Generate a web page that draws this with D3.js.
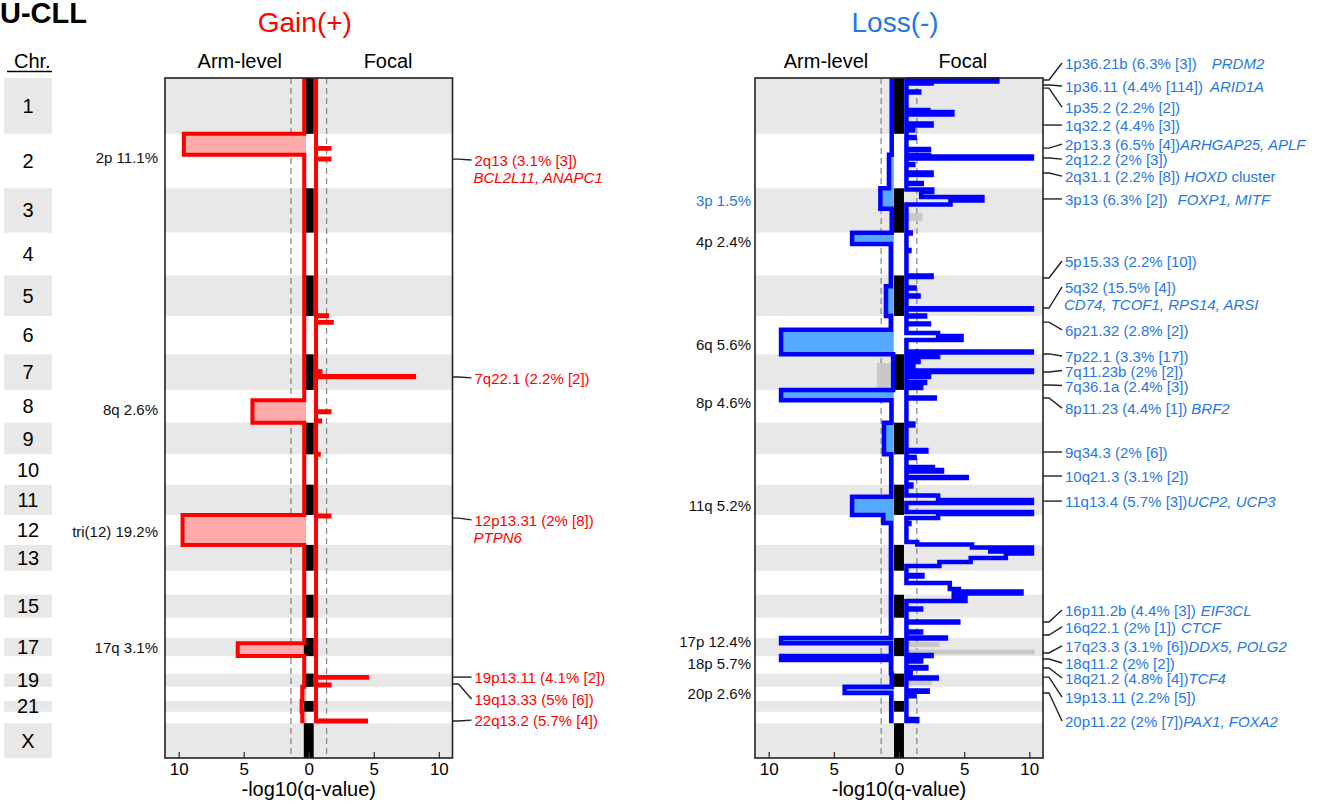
<!DOCTYPE html>
<html><head><meta charset="utf-8">
<script src="https://cdn.jsdelivr.net/npm/d3@7"></script>
<style>body{margin:0;background:#fff;} svg{display:block;font-family:"Liberation Sans",Arial,sans-serif;}</style>
</head><body>
<svg id="chart" width="1325" height="804"></svg>
<script>
// ---------------- data ----------------
const chromosomes = ["1","2","3","4","5","6","7","8","9","10","11","12","13","14","15","16","17","18","19","20","21","22","X"];
const chromLengths = [249.25,243.2,198.0,191.15,180.9,171.1,159.1,146.4,141.2,135.5,135.0,133.85,115.2,107.35,102.5,90.35,81.2,78.1,59.1,63.0,48.1,51.3,155.3];
const centromeres = [125.0,93.3,91.0,50.4,48.4,61.0,59.9,45.6,49.0,40.2,53.7,35.8,17.9,17.6,19.0,36.6,24.0,17.2,26.5,27.5,13.2,14.7,60.6];
const chromLabels = ["1","2","3","4","5","6","7","8","9","10","11","12","13","","15","","17","","19","","21","","X"];
const xTicks = [-10,-5,0,5,10];
const threshold = 1.37;

// arm-level -log10(q) per arm (chr1..22)
const gainArmP = [0.35,9.6,0.35,0.35,0.35,0.35,0.35,0.35,0.35,0.35,0.35,9.7,0.35,0.35,0.35,0.35,0.35,0.35,0.35,0.5,0.55,0.5];
const gainArmQ = [0.35,0.35,0.35,0.35,0.35,0.35,0.35,4.33,0.35,0.35,0.35,9.7,0.35,0.35,0.35,0.35,5.46,0.35,0.35,0.5,0.55,0.5];
const lossArmP = [0.56,0.56,1.43,3.6,0.63,0.63,0.45,9.05,1.15,0.6,0.6,1.2,0.62,0.62,0.62,0.62,9.05,9.05,0.56,4.17,0.6,0.6];
const lossArmQ = [0.56,0.77,0.56,0.63,1.0,9.05,0.45,0.58,1.15,0.6,3.6,0.62,0.62,0.62,0.62,0.62,0.62,0.62,0.56,0.6,0.6,0.6];
const lossArmGrey = [[1273,1389,1.7]];

// focal segments: [genome start Mb, genome end Mb, -log10(q)]
const gainFocalBase = 0.56;
const gainFocal = [[312,316,1.6],[359,364,1.6],[1059,1064,1.4],[1089,1093,1.77],[1309,1313,0.9],[1331,1336,8.1],[1488,1492,1.6],[1529,1534,0.87],[1678,1682,0.77],[1953,1958,1.6],[2674,2678,4.5],[2708,2712,1.6],[2869,2873,4.4]];
const lossFocalBase = 0.57;
const lossFocal = [[7,15.6,7.55],[15.6,24.6,2.5],[60,65,1.55],[143,152,2.25],[152,163,4.1],[203,212,2.5],[230,234,1.1],[263,268,1.2],[317,321,2.3],[344,350.5,2.3],[350.5,359,10.2],[384,388,1.1],[422,433,2.5],[469,473,1.75],[498,509,2.55],[509,531,1.7],[531,547,6.4],[547,565,3.95],[690,694,0.9],[768,772,0.8],[882,888,2.5],[935,940,1.2],[971,976,1.5],[1028,1034,10.2],[1060,1065,2.0],[1096,1100,2.3],[1139,1152,3.0],[1152,1170,4.8],[1221,1226,10.2],[1237,1246,3.0],[1264,1268,1.5],[1286,1290,1.1],[1306,1313,10.2],[1331,1335,2.3],[1357,1362,2.0],[1380,1384,1.7],[1427,1431,2.75],[1543,1552,1.1],[1661,1668,2.1],[1692,1697,1.2],[1737,1744,2.6],[1750,1757,3.3],[1781,1786,5.2],[1815,1824,0.95],[1864,1884,3.0],[1884,1898,10.2],[1938,1947,10.2],[1947,1965,3.0],[1987,1991,0.8],[2072,2083,1.4],[2083,2096,5.6],[2096,2108,10.2],[2108,2114,7.0],[2114,2123,10.2],[2123,2143,8.2],[2143,2161,5.5],[2161,2179,3.1],[2219,2226,1.8],[2255,2282,3.9],[2282,2293,4.6],[2293,2302,9.4],[2302,2317,4.2],[2317,2335,5.1],[2369,2373,1.7],[2427,2431,4.55],[2471,2476,1.7],[2498,2503,3.6],[2576,2581,2.5],[2601,2605,1.7],[2630,2637,2.1],[2657,2661,0.9],[2677,2681,2.9],[2735,2740,2.2],[2755,2760,1.2],[2862,2871,1.4]];
const lossFocalGrey = [[603,638,1.8],[2518,2541,3.1],[2552,2574,10.4],[2691,2711,2.5]];

// arm labels: [genome position, text]
const gainArmLabels = [[357,"2p 11.1%"],[1482,"8q 2.6%"],[2023,"tri(12) 19.2%"],[2545,"17q 3.1%"]];
const lossArmLabels = [[549,"3p 1.5%",true],[732,"4p 2.4%"],[1188,"6q 5.6%"],[1447,"8p 4.6%"],[1907,"11q 5.2%"],[2514,"17p 12.4%"],[2616,"18p 5.7%"],[2746,"20p 2.6%"]];

// peak labels
const gainPeakLabels = [
 {peak:362, at:366, name:"2q13 (3.1% [3])", genes:"BCL2L11, ANAPC1", below:true},
 {peak:1335, at:1339, name:"7q22.1 (2.2% [2])"},
 {peak:1965, at:1973, name:"12p13.31 (2% [8])", genes:"PTPN6", below:true},
 {peak:2675, at:2675, name:"19p13.11 (4.1% [2])"},
 {peak:2706, at:2773, name:"19q13.33 (5% [6])"},
 {peak:2871, at:2867, name:"22q13.2 (5.7% [4])"}
];
const lossPeakLabels = [
 {peak:9, at:-67, name:"1p36.21b (6.3% [3])", genes:"PRDM2", gap:15},
 {peak:31, at:36, name:"1p36.11 (4.4% [114])", genes:"ARID1A", gap:7},
 {peak:45, at:130, name:"1p35.2 (2.2% [2])"},
 {peak:210, at:210, name:"1q32.2 (4.4% [3])"},
 {peak:313, at:295, name:"2p13.3 (6.5% [4])", genes:"ARHGAP25, APLF", gap:0},
 {peak:357, at:362, name:"2q12.2 (2% [3])"},
 {peak:424, at:438, name:"2q31.1 (2.2% [8])", genes:"HOXD", gap:4, after:"cluster"},
 {peak:540, at:540, name:"3p13 (6.3% [2])", genes:"FOXP1, MITF", gap:10},
 {peak:893, at:817, name:"5p15.33 (2.2% [10])"},
 {peak:1027, at:933, name:"5q32 (15.5% [4])", genes:"CD74, TCOF1, RPS14, ARSI", below:true},
 {peak:1090, at:1125, name:"6p21.32 (2.8% [2])"},
 {peak:1232, at:1241, name:"7p22.1 (3.3% [17])"},
 {peak:1313, at:1306, name:"7q11.23b (2% [2])"},
 {peak:1371, at:1373, name:"7q36.1a (2.4% [3])"},
 {peak:1429, at:1474, name:"8p11.23 (4.4% [1])", genes:"BRF2", gap:4},
 {peak:1670, at:1670, name:"9q34.3 (2% [6])"},
 {peak:1777, at:1777, name:"10q21.3 (3.1% [2])"},
 {peak:1889, at:1889, name:"11q13.4 (5.7% [3])", genes:"UCP2, UCP3", gap:0},
 {peak:2429, at:2375, name:"16p11.2b (4.4% [3])", genes:"EIF3CL", gap:5},
 {peak:2487, at:2451, name:"16q22.1 (2% [1])", genes:"CTCF", gap:5},
 {peak:2567, at:2536, name:"17q23.3 (3.1% [6])", genes:"DDX5, POLG2", gap:0},
 {peak:2594, at:2612, name:"18q11.2 (2% [2])"},
 {peak:2634, at:2679, name:"18q21.2 (4.8% [4])", genes:"TCF4", gap:0},
 {peak:2675, at:2764, name:"19p13.11 (2.2% [5])"},
 {peak:2746, at:2871, name:"20p11.22 (2% [7])", genes:"PAX1, FOXA2", gap:0}
];

// ---------------- drawing ----------------
const svg = d3.select("#chart");
const FONT = '"Liberation Sans",Arial,sans-serif';
const total = d3.sum(chromLengths);
const starts = chromLengths.map((d,i)=>d3.sum(chromLengths.slice(0,i)));
const autoEnd = starts[21] + chromLengths[21];
const y = d3.scaleLinear().domain([0,total]).range([78,758]);
const RED = "#ff0000", BLUE = "#0000ff", LBLUE = "#1f78e6";

svg.append("text").attr("x",0).attr("y",23).attr("font-size",29).attr("font-weight","bold").text("U-CLL");

// chromosome column
svg.append("text").attr("x",14).attr("y",68).attr("font-size",20).text("Chr.");
svg.append("line").attr("x1",7).attr("x2",52).attr("y1",71.5).attr("y2",71.5).attr("stroke","#000").attr("stroke-width",1.5);
chromosomes.forEach((c,i)=>{
  if(i%2===0) svg.append("rect").attr("x",4).attr("width",48).attr("y",y(starts[i])).attr("height",y(starts[i]+chromLengths[i])-y(starts[i])).attr("fill","#e8e8e8");
  if(chromLabels[i]) svg.append("text").attr("x",28).attr("y",(y(starts[i])+y(starts[i]+chromLengths[i]))/2).attr("dominant-baseline","central").attr("text-anchor","middle").attr("font-size",20).text(chromLabels[i]);
});

function armPoints(P,Q){
  const pts=[];
  for(let i=0;i<22;i++){const s=starts[i],c=s+centromeres[i],e=s+chromLengths[i];pts.push([P[i],s],[P[i],c],[Q[i],c],[Q[i],e]);}
  return pts;
}
function focalPoints(segs,base){
  const pts=[[base,0]];
  segs.forEach((s,i)=>{
    const prev=segs[i-1], next=segs[i+1];
    if(!(prev && Math.abs(prev[1]-s[0])<0.01)) pts.push([base,s[0]]);
    pts.push([s[2],s[0]],[s[2],s[1]]);
    if(!(next && Math.abs(next[0]-s[1])<0.01)) pts.push([base,s[1]]);
  });
  pts.push([base,autoEnd]);
  return pts;
}

const panels = [
 {range:[165,452.5], line:RED, fill:"#ffaaaa", text:RED, P:gainArmP, Q:gainArmQ, focal:gainFocal, base:gainFocalBase, fillEdge:-0.2, title:"Gain(+)", lw:4,
  armLabels:gainArmLabels, armLabelX:158, peaks:gainPeakLabels, armGrey:[], focalGrey:[], armTitleAt:-5.3, focalTitleAt:6.1},
 {range:[755,1043], line:BLUE, fill:"#55aaff", text:LBLUE, P:lossArmP, Q:lossArmQ, focal:lossFocal, base:lossFocalBase, fillEdge:-0.4, title:"Loss(-)", lw:4.5,
  armLabels:lossArmLabels, armLabelX:751, peaks:lossPeakLabels, armGrey:lossArmGrey, focalGrey:lossFocalGrey, armTitleAt:-5.6, focalTitleAt:4.9}
];

panels.forEach(p=>{
  const x = d3.scaleLinear().domain([-11.05,11.05]).range(p.range);
  const g = svg.append("g");
  const L = p.range[0], R = p.range[1];
  // titles
  svg.append("text").attr("x",x(-0.3)).attr("y",32).attr("text-anchor","middle").attr("font-size",28).attr("fill",p.text).text(p.title);
  svg.append("text").attr("x",x(p.armTitleAt)).attr("y",68).attr("text-anchor","middle").attr("font-size",20).text("Arm-level");
  svg.append("text").attr("x",x(p.focalTitleAt)).attr("y",68).attr("text-anchor","middle").attr("font-size",20).text("Focal");
  // bands
  chromosomes.forEach((c,i)=>{
    if(i%2===0) g.append("rect").attr("x",L).attr("width",R-L).attr("y",y(starts[i])).attr("height",y(starts[i]+chromLengths[i])-y(starts[i])).attr("fill","#e8e8e8");
  });
  // threshold lines
  [-threshold,threshold].forEach(t=>g.append("line").attr("x1",x(t)).attr("x2",x(t)).attr("y1",78).attr("y2",758).attr("stroke","#8a8a8a").attr("stroke-width",1.3).attr("stroke-dasharray","6,4"));
  // arm-level fill
  const arm = armPoints(p.P,p.Q);
  g.append("path").attr("d",d3.area().y(d=>y(d[1])).x0(x(p.fillEdge)).x1(d=>x(-d[0]))(arm)).attr("fill",p.fill);
  p.armGrey.forEach(s=>g.append("rect").attr("x",x(-s[2])).attr("width",x(0)-x(-s[2])).attr("y",y(s[0])).attr("height",y(s[1])-y(s[0])).attr("fill","#c8c8c8"));
  p.focalGrey.forEach(s=>g.append("rect").attr("x",x(0)).attr("width",x(s[2])-x(0)).attr("y",y(s[0])).attr("height",y(s[1])-y(s[0])).attr("fill","#c8c8c8"));
  // black chromosome markers
  chromosomes.forEach((c,i)=>{
    if(i%2===0) g.append("rect").attr("x",x(-0.38)).attr("width",x(0.38)-x(-0.38)).attr("y",y(starts[i])).attr("height",y(starts[i]+chromLengths[i])-y(starts[i])).attr("fill","#000");
  });
  // lines
  g.append("path").attr("d",d3.line().x(d=>x(-d[0])).y(d=>y(d[1]))(arm)).attr("fill","none").attr("stroke",p.line).attr("stroke-width",p.lw).attr("stroke-linejoin","miter");
  g.append("path").attr("d",d3.line().x(d=>x(d[0])).y(d=>y(d[1]))(focalPoints(p.focal,p.base))).attr("fill","none").attr("stroke",p.line).attr("stroke-width",p.lw).attr("stroke-linejoin","miter");
  // frame
  g.append("rect").attr("x",L).attr("y",78).attr("width",R-L).attr("height",680).attr("fill","none").attr("stroke","#222").attr("stroke-width",1.6);
  // axis
  const ax = svg.append("g").attr("transform","translate(0,758)").call(d3.axisBottom(x).tickValues(xTicks).tickFormat(d=>Math.abs(d)).tickSize(-6).tickPadding(5));
  ax.select(".domain").remove();
  ax.selectAll("line").attr("stroke","#333").attr("stroke-width",1.3);
  ax.selectAll("text").attr("font-size",17).attr("font-family",FONT).attr("fill","#000");
  svg.append("text").attr("x",x(0)).attr("y",796).attr("text-anchor","middle").attr("font-size",20).text("-log10(q-value)");
  // arm labels
  p.armLabels.forEach(a=>svg.append("text").attr("x",p.armLabelX).attr("y",y(a[0])).attr("dominant-baseline","central").attr("text-anchor","end").attr("font-size",15).attr("fill",a[2]?LBLUE:"#111").text(a[1]));
  // peak labels
  p.peaks.forEach(q=>{
    const yp=y(q.peak), yl=y(q.at);
    svg.append("path").attr("d",`M${R},${yp}L${R+6},${yp}L${R+19},${yl}`).attr("fill","none").attr("stroke","#222").attr("stroke-width",1.4);
    const t = svg.append("text").attr("x",R+22).attr("y",yl).attr("dominant-baseline","central").attr("font-size",15).attr("fill",p.text);
    t.append("tspan").text(q.name);
    if(q.genes && !q.below) t.append("tspan").attr("dx",q.gap||0).attr("font-style","italic").text(q.genes);
    if(q.after) t.append("tspan").attr("dx",4).text(q.after);
    if(q.genes && q.below) svg.append("text").attr("x",R+21).attr("y",yl+18).attr("dominant-baseline","central").attr("font-size",15).attr("font-style","italic").attr("fill",p.text).text(q.genes);
  });
});
</script>
</body></html>
